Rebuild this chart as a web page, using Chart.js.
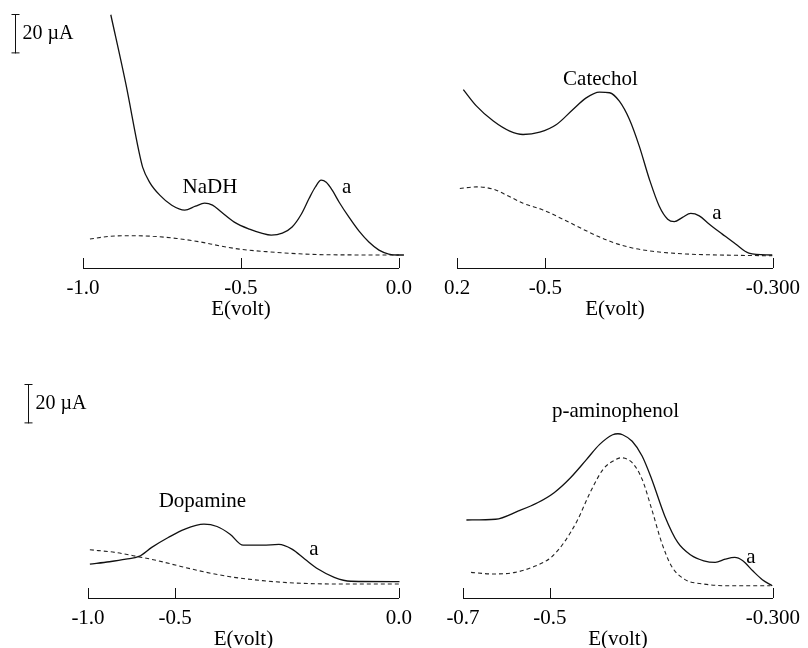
<!DOCTYPE html>
<html>
<head>
<meta charset="utf-8">
<title>Voltammograms</title>
<script src="https://cdn.jsdelivr.net/npm/chart.js@4.4.0/dist/chart.umd.min.js"></script>
<style>
  html, body { margin: 0; padding: 0; background: #fff; overflow: hidden; }
  #wrap { position: relative; width: 808px; height: 648px; }
  canvas { position: absolute; }
</style>
</head>
<body>
<div id="wrap">
  <canvas id="nadh" width="420" height="330" style="left:0;top:0"></canvas>
  <canvas id="catechol" width="388" height="330" style="left:420px;top:0"></canvas>
  <canvas id="dopamine" width="420" height="330" style="left:0;top:330px"></canvas>
  <canvas id="aminophenol" width="388" height="330" style="left:420px;top:330px"></canvas>
</div>
<script>
// potential (sweep position, V) and current (uA) for each scan; "blank" = dashed trace
const nadhE = [-0.912, -0.864, -0.823, -0.811, -0.789, -0.757, -0.719, -0.678, -0.644, -0.615, -0.590, -0.562, -0.521, -0.473, -0.435, -0.404, -0.369, -0.338, -0.309, -0.284, -0.265, -0.246, -0.230, -0.211, -0.189, -0.158, -0.126, -0.095, -0.063, -0.032, -0.006, 0.016];
const nadhI = [128.6, 93.2, 59.2, 51.1, 43.5, 37.0, 31.9, 29.4, 31.4, 32.9, 31.9, 28.4, 23.3, 19.7, 17.7, 16.7, 17.7, 20.8, 27.3, 35.4, 41.0, 44.6, 43.5, 39.5, 33.4, 25.8, 18.7, 13.2, 9.1, 7.1, 6.6, 6.6];
const nadhBlankE = [-0.978, -0.915, -0.842, -0.779, -0.703, -0.631, -0.568, -0.505, -0.420, -0.315, -0.211, 0.0];
const nadhBlankI = [14.7, 16.1, 16.4, 16.1, 15.0, 13.3, 11.3, 9.6, 8.3, 7.2, 6.7, 6.6];

const catecholE = [-0.980, -0.938, -0.885, -0.833, -0.791, -0.738, -0.685, -0.633, -0.591, -0.549, -0.517, -0.486, -0.454, -0.423, -0.391, -0.360, -0.333, -0.312, -0.286, -0.260, -0.233, -0.202, -0.160, -0.118, -0.076, -0.002];
const catecholI = [90.6, 82.2, 74.6, 69.5, 67.8, 69.0, 72.9, 80.5, 86.4, 89.3, 89.0, 84.7, 75.4, 61.9, 45.1, 31.5, 24.8, 23.6, 25.7, 27.7, 26.5, 22.3, 17.2, 12.2, 7.6, 6.6];
const catecholBlankE = [-0.991, -0.938, -0.885, -0.843, -0.791, -0.728, -0.665, -0.591, -0.528, -0.454, -0.381, -0.275, -0.170, -0.002];
const catecholBlankI = [40.4, 41.2, 40.0, 37.0, 32.9, 29.5, 24.8, 18.9, 14.3, 10.5, 8.5, 7.1, 6.6, 6.2];

const dopamineE = [-0.994, -0.931, -0.878, -0.836, -0.795, -0.742, -0.690, -0.627, -0.585, -0.543, -0.501, -0.438, -0.386, -0.344, -0.302, -0.260, -0.208, -0.155, 0.002];
const dopamineI = [17.2, 18.4, 19.7, 21.1, 25.7, 30.7, 34.9, 37.5, 36.3, 32.4, 26.8, 26.8, 27.2, 24.8, 19.7, 14.7, 10.5, 8.5, 8.3];
const dopamineBlankE = [-0.994, -0.910, -0.836, -0.774, -0.711, -0.627, -0.543, -0.438, -0.333, -0.176, 0.002];
const dopamineBlankI = [24.5, 23.1, 20.9, 18.9, 16.4, 13.3, 10.8, 8.8, 7.6, 7.1, 7.1];

const aminophenolE = [-0.989, -0.895, -0.821, -0.758, -0.706, -0.653, -0.601, -0.559, -0.517, -0.500, -0.485, -0.454, -0.422, -0.391, -0.349, -0.307, -0.265, -0.223, -0.186, -0.154, -0.123, -0.097, -0.065, -0.034, -0.002];
const aminophenolI = [39.6, 40.0, 44.2, 48.5, 53.5, 61.1, 70.4, 78.0, 82.9, 83.4, 82.9, 79.6, 72.1, 60.3, 41.7, 28.2, 21.8, 18.9, 18.1, 19.7, 20.6, 18.9, 13.8, 9.3, 6.2];
const aminophenolBlankE = [-0.974, -0.905, -0.832, -0.769, -0.716, -0.674, -0.632, -0.590, -0.548, -0.506, -0.490, -0.454, -0.422, -0.391, -0.359, -0.328, -0.286, -0.223, -0.139, -0.008];
const aminophenolBlankI = [13.0, 12.2, 13.0, 16.1, 20.6, 28.2, 39.1, 53.5, 65.3, 70.4, 71.2, 68.7, 60.3, 45.1, 28.2, 16.4, 9.6, 7.1, 6.2, 6.2];

// axis ticks: sweep position and the label printed under it
const nadhTicks = [-1.0, -0.5, 0.0];
const nadhTickLabels = ['-1.0', '-0.5', '0.0'];
const catecholTicks = [-1.0, -0.72, 0.0];
const catecholTickLabels = ['0.2', '-0.5', '-0.300'];
const dopamineTicks = [-1.0, -0.72, 0.0];
const dopamineTickLabels = ['-1.0', '-0.5', '0.0'];
const aminophenolTicks = [-1.0, -0.72, 0.0];
const aminophenolTickLabels = ['-0.7', '-0.5', '-0.300'];

// text written on the plots: [text, E, I]
const nadhNotes = [['NaDH', -0.598, 41.0], ['a', -0.165, 40.9]];
const catecholNotes = [['Catechol', -0.546, 95.7], ['a', -0.177, 27.8]];
const dopamineNotes = [['Dopamine', -0.632, 48.8], ['a', -0.273, 24.5]];
const aminophenolNotes = [['p-aminophenol', -0.508, 94.8], ['a', -0.071, 20.6]];

const SCALE_BAR_UA = 20;
const I_MAX = 130;

Chart.defaults.font.family = '"Liberation Serif", "Times New Roman", serif';
Chart.defaults.font.size = 21;
Chart.defaults.color = '#000';

function toPoints(xs, ys) {
  return xs.map((x, i) => ({ x: x, y: ys[i] }));
}

// upward tick marks, labels on the curves and the current scale bar
const decorations = {
  id: 'decorations',
  afterDraw(chart, args, opts) {
    const ctx = chart.ctx;
    const area = chart.chartArea;
    const xs = chart.scales.x;
    const ys = chart.scales.y;
    ctx.save();
    ctx.strokeStyle = '#111';
    ctx.lineWidth = 1;
    xs.ticks.forEach((t) => {
      const px = Math.round(xs.getPixelForValue(t.value)) + 0.5;
      ctx.beginPath();
      ctx.moveTo(px, area.bottom);
      ctx.lineTo(px, area.bottom - 10);
      ctx.stroke();
    });

    ctx.fillStyle = '#000';
    ctx.font = '21px "Liberation Serif", serif';
    ctx.textAlign = 'center';
    ctx.textBaseline = 'middle';
    (opts.notes || []).forEach((n) => {
      ctx.fillText(n[0], xs.getPixelForValue(n[1]), ys.getPixelForValue(n[2]));
    });

    if (opts.bar) {
      const len = ys.getPixelForValue(0) - ys.getPixelForValue(SCALE_BAR_UA);
      const bx = opts.bar.x + 0.5;
      const top = opts.bar.top;
      ctx.beginPath();
      ctx.moveTo(bx, top);
      ctx.lineTo(bx, top + len);
      ctx.moveTo(bx - 4, top + 0.5);
      ctx.lineTo(bx + 4, top + 0.5);
      ctx.moveTo(bx - 4, top + len - 0.5);
      ctx.lineTo(bx + 4, top + len - 0.5);
      ctx.stroke();
      ctx.textAlign = 'left';
      ctx.font = '20px "Liberation Serif", serif';
      ctx.fillText(SCALE_BAR_UA + ' \u00b5A', bx + 7, top + len / 2);
    }
    ctx.restore();
  }
};

function makePanel(id, solid, blank, ticks, tickLabels, notes, pad, bar) {
  return new Chart(document.getElementById(id), {
    type: 'line',
    data: {
      datasets: [
        {
          data: solid,
          borderColor: '#111',
          borderWidth: 1.3,
          pointRadius: 0,
          cubicInterpolationMode: 'monotone',
          fill: false,
          clip: false
        },
        {
          data: blank,
          borderColor: '#222',
          borderWidth: 1.1,
          borderDash: [4, 3],
          pointRadius: 0,
          cubicInterpolationMode: 'monotone',
          fill: false,
          clip: false
        }
      ]
    },
    options: {
      responsive: false,
      animation: false,
      events: [],
      layout: { padding: { left: pad.left, right: pad.right, top: 12, bottom: 8 } },
      plugins: {
        legend: { display: false },
        tooltip: { enabled: false },
        decorations: { notes: notes, bar: bar }
      },
      scales: {
        x: {
          type: 'linear',
          min: -1,
          max: 0,
          grid: { display: false, drawTicks: false },
          border: { display: true, color: '#111', width: 1 },
          afterBuildTicks(scale) {
            scale.ticks = ticks.map((v) => ({ value: v }));
          },
          afterFit(scale) {
            scale.height = 54;
          },
          ticks: {
            padding: 8,
            autoSkip: false,
            maxRotation: 0,
            callback: (value, index) => tickLabels[index]
          },
          title: { display: true, text: 'E(volt)', padding: 0 }
        },
        y: { display: false, min: 0, max: I_MAX }
      }
    },
    plugins: [decorations]
  });
}

makePanel('nadh', toPoints(nadhE, nadhI), toPoints(nadhBlankE, nadhBlankI),
  nadhTicks, nadhTickLabels, nadhNotes, { left: 83, right: 20 }, { x: 15, top: 14 });
makePanel('catechol', toPoints(catecholE, catecholI), toPoints(catecholBlankE, catecholBlankI),
  catecholTicks, catecholTickLabels, catecholNotes, { left: 37, right: 34 }, null);
makePanel('dopamine', toPoints(dopamineE, dopamineI), toPoints(dopamineBlankE, dopamineBlankI),
  dopamineTicks, dopamineTickLabels, dopamineNotes, { left: 88, right: 14 }, { x: 28, top: 54 });
makePanel('aminophenol', toPoints(aminophenolE, aminophenolI), toPoints(aminophenolBlankE, aminophenolBlankI),
  aminophenolTicks, aminophenolTickLabels, aminophenolNotes, { left: 43, right: 27 }, null);
</script>
</body>
</html>
